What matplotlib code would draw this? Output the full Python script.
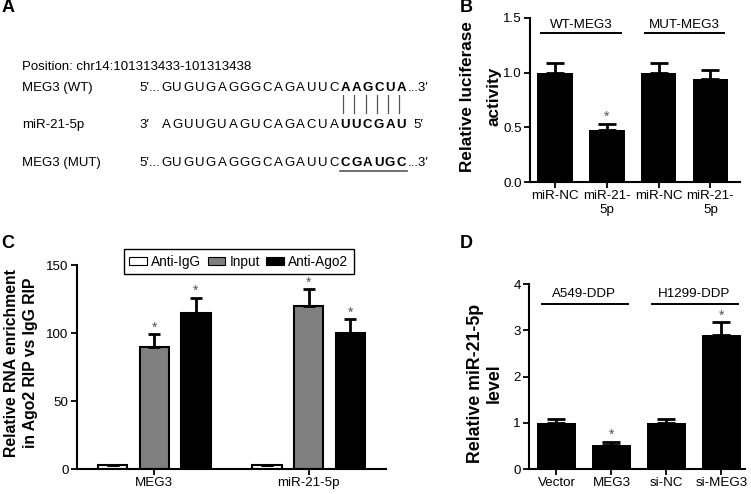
import matplotlib
matplotlib.use('Agg')
import matplotlib.pyplot as plt
from matplotlib.patches import Patch
from matplotlib.lines import Line2D
import numpy as np

plt.rcParams['font.family'] = ['Liberation Sans', 'DejaVu Sans']

W, H = 751, 494
fig = plt.figure(figsize=(W / 100, H / 100), dpi=100)


def fx(x):
    return x / W


def fy(y):
    return 1 - y / H


# ---------------- Data ----------------
# Panel A
position_text = "Position: chr14:101313433-101313438"
row_labels = ["MEG3 (WT)", "miR-21-5p", "MEG3 (MUT)"]
wt_seq, wt_site = "GUGUGAGGGCAGAUUC", "AAGCUA"
mir_seq, mir_site = "AGUUGUAGUCAGACUA", "UUCGAU"
mut_seq, mut_site = "GUGUGAGGGCAGAUUC", "CGAUGC"

# Panel B
b_labels = ["miR-NC", "miR-21-\n5p", "miR-NC", "miR-21-\n5p"]
b_values = [1.0, 0.48, 1.0, 0.94]
b_errors = [0.09, 0.05, 0.09, 0.08]
b_sig = [False, True, False, False]
b_groups = ["WT-MEG3", "MUT-MEG3"]

# Panel C
c_categories = ["MEG3", "miR-21-5p"]
c_series = ["Anti-IgG", "Input", "Anti-Ago2"]
c_igg = [3, 3]
c_igg_err = [0.3, 0.3]
c_input = [90, 120]
c_input_err = [9, 12]
c_ago2 = [115, 100]
c_ago2_err = [11, 10]

# Panel D
d_labels = ["Vector", "MEG3", "si-NC", "si-MEG3"]
d_values = [1.0, 0.52, 1.0, 2.9]
d_errors = [0.09, 0.06, 0.09, 0.27]
d_sig = [False, True, False, True]
d_groups = ["A549-DDP", "H1299-DDP"]

STAR_COLOR = '#555555'
TICK_FS = 9.6


def style_axes(ax):
    for s in ['top', 'right']:
        ax.spines[s].set_visible(False)
    for s in ['left', 'bottom']:
        ax.spines[s].set_linewidth(1.5)
    ax.tick_params(direction='out', length=4, width=1.3, labelsize=TICK_FS, pad=2)


def star(ax, x, y):
    ax.annotate('*', (x, y), xytext=(0, 0), textcoords='offset points',
                ha='center', va='bottom', color=STAR_COLOR, fontsize=10)


# ---------------- Panel letters ----------------
for letter, (px, py) in zip("ABCD", [(8, 8), (466, 8), (8, 243), (466, 243)]):
    fig.text(fx(px), fy(py), letter, fontsize=13, fontweight='bold', ha='center', va='center')

# ---------------- Panel A ----------------
afs = 9.5
fig.text(fx(22), fy(67), position_text, fontsize=afs, va='center')
row_y = [88, 125, 163]
for lab, yy in zip(row_labels, row_y):
    fig.text(fx(22), fy(yy), lab, fontsize=afs, va='center')

col0, dx = 166, 11.2


def draw_seq(seq, site, yy):
    for i, ch in enumerate(seq):
        fig.text(fx(col0 + i * dx), fy(yy), ch, fontsize=afs, ha='center', va='center')
    for j, ch in enumerate(site):
        fig.text(fx(col0 + (len(seq) + j) * dx), fy(yy), ch, fontsize=afs,
                 ha='center', va='center', fontweight='bold')


draw_seq(wt_seq, wt_site, row_y[0])
draw_seq(mir_seq, mir_site, row_y[1])
draw_seq(mut_seq, mut_site, row_y[2])

end_x = col0 + (len(wt_seq) + len(wt_site)) * dx - dx / 2 + 1
fig.text(fx(160), fy(row_y[0]), "5\u2032...", fontsize=afs, ha='right', va='center')
fig.text(fx(end_x), fy(row_y[0]), "...3\u2032", fontsize=afs, ha='left', va='center')
fig.text(fx(139), fy(row_y[1]), "3\u2032", fontsize=afs, ha='left', va='center')
fig.text(fx(end_x + 6), fy(row_y[1]), "5\u2032", fontsize=afs, ha='left', va='center')
fig.text(fx(160), fy(row_y[2]), "5\u2032...", fontsize=afs, ha='right', va='center')
fig.text(fx(end_x), fy(row_y[2]), "...3\u2032", fontsize=afs, ha='left', va='center')

for j in range(len(wt_site)):
    xx = col0 + (len(wt_seq) + j) * dx - 2
    fig.add_artist(Line2D([fx(xx), fx(xx)], [fy(95), fy(113)], color='#555555', lw=0.9))
x_ul0 = col0 + len(mut_seq) * dx - dx / 2
x_ul1 = col0 + (len(mut_seq) + len(mut_site)) * dx - dx / 2
fig.add_artist(Line2D([fx(x_ul0), fx(x_ul1)], [fy(171), fy(171)], color='#555555', lw=1.2))

# ---------------- Panel B ----------------
axB = fig.add_axes([fx(530), fy(182), (740 - 530) / W, (182 - 18) / H])
xb = np.arange(len(b_values))
axB.bar(xb, b_values, width=0.69, color='black',
        yerr=[np.zeros(len(b_errors)), b_errors], capsize=6.5,
        error_kw=dict(elinewidth=2, capthick=2, ecolor='black'))
for i, s in enumerate(b_sig):
    if s:
        star(axB, xb[i], b_values[i] + b_errors[i])
axB.set_xlim(-0.48, 3.57)
axB.set_ylim(0, 1.5)
axB.set_yticks([0, 0.5, 1.0, 1.5])
axB.set_yticklabels(["0.0", "0.5", "1.0", "1.5"])
axB.set_xticks(xb)
axB.set_xticklabels(b_labels)
style_axes(axB)
axB.set_ylabel("Relative luciferase\nactivity", fontsize=12.3, fontweight='bold', linespacing=1.95)
axB.yaxis.set_label_coords(-0.135, 0.52)
for k, g in enumerate(b_groups):
    c = 0.5 + 2 * k
    axB.plot([c - 0.77, c + 0.77], [1.36, 1.36], color='black', lw=1.4, clip_on=False)
    axB.text(c, 1.44, g, ha='center', va='center', fontsize=TICK_FS)

# ---------------- Panel C ----------------
axC = fig.add_axes([fx(77), fy(469), (386 - 77) / W, (469 - 265) / H])
xc = np.arange(len(c_categories))
off, bw = 0.27, 0.19
ek = dict(elinewidth=2, capthick=2, ecolor='black')
zeros = np.zeros(len(c_categories))
axC.bar(xc - off, c_igg, width=bw, color='white', edgecolor='black', linewidth=1.5,
        yerr=[zeros, c_igg_err], capsize=4.5, error_kw=ek)
axC.bar(xc, c_input, width=bw, color='#808080', edgecolor='black', linewidth=1.5,
        yerr=[zeros, c_input_err], capsize=4.5, error_kw=ek)
axC.bar(xc + off, c_ago2, width=bw, color='black', edgecolor='black', linewidth=1.5,
        yerr=[zeros, c_ago2_err], capsize=4.5, error_kw=ek)
for i in range(len(c_categories)):
    star(axC, xc[i], c_input[i] + c_input_err[i])
    star(axC, xc[i] + off, c_ago2[i] + c_ago2_err[i])
axC.set_xlim(-0.5, 1.5)
axC.set_ylim(0, 150)
axC.set_yticks([0, 50, 100, 150])
axC.set_xticks(xc)
axC.set_xticklabels(c_categories)
style_axes(axC)
axC.set_ylabel("Relative RNA enrichment\nin Ago2 RIP vs IgG RIP", fontsize=11.3,
               fontweight='bold', linespacing=1.35)
axC.yaxis.set_label_coords(-0.125, 0.52)
handles = [Patch(facecolor='white', edgecolor='black', linewidth=0.8),
           Patch(facecolor='#808080', edgecolor='black', linewidth=0.8),
           Patch(facecolor='black', edgecolor='black', linewidth=0.8)]
leg = axC.legend(handles, c_series, loc='center', bbox_to_anchor=(0.523, 1.015), ncol=3,
                 fontsize=9.8, frameon=True, fancybox=False, framealpha=1,
                 edgecolor='black', handlelength=1.3, handleheight=0.5,
                 handletextpad=0.3, columnspacing=0.5, borderpad=0.4)
leg.get_frame().set_linewidth(1.0)

# ---------------- Panel D ----------------
axD = fig.add_axes([fx(529), fy(469), (745 - 529) / W, (469 - 284) / H])
xd = np.arange(len(d_values))
axD.bar(xd, d_values, width=0.71, color='black',
        yerr=[np.zeros(len(d_errors)), d_errors], capsize=6.5,
        error_kw=dict(elinewidth=2, capthick=2, ecolor='black'))
for i, s in enumerate(d_sig):
    if s:
        star(axD, xd[i], d_values[i] + d_errors[i])
axD.set_xlim(-0.5, 3.43)
axD.set_ylim(0, 4)
axD.set_yticks([0, 1, 2, 3, 4])
axD.set_xticks(xd)
axD.set_xticklabels(d_labels)
style_axes(axD)
axD.set_ylabel("Relative miR-21-5p\nlevel", fontsize=12.8, fontweight='bold', linespacing=1.15)
axD.yaxis.set_label_coords(-0.12, 0.465)
for k, g in enumerate(d_groups):
    c = 0.5 + 2 * k
    axD.plot([c - 0.77, c + 0.8], [3.57, 3.57], color='black', lw=1.4, clip_on=False)
    axD.text(c, 3.78, g, ha='center', va='center', fontsize=TICK_FS)

fig.savefig('out.png', dpi=100)
